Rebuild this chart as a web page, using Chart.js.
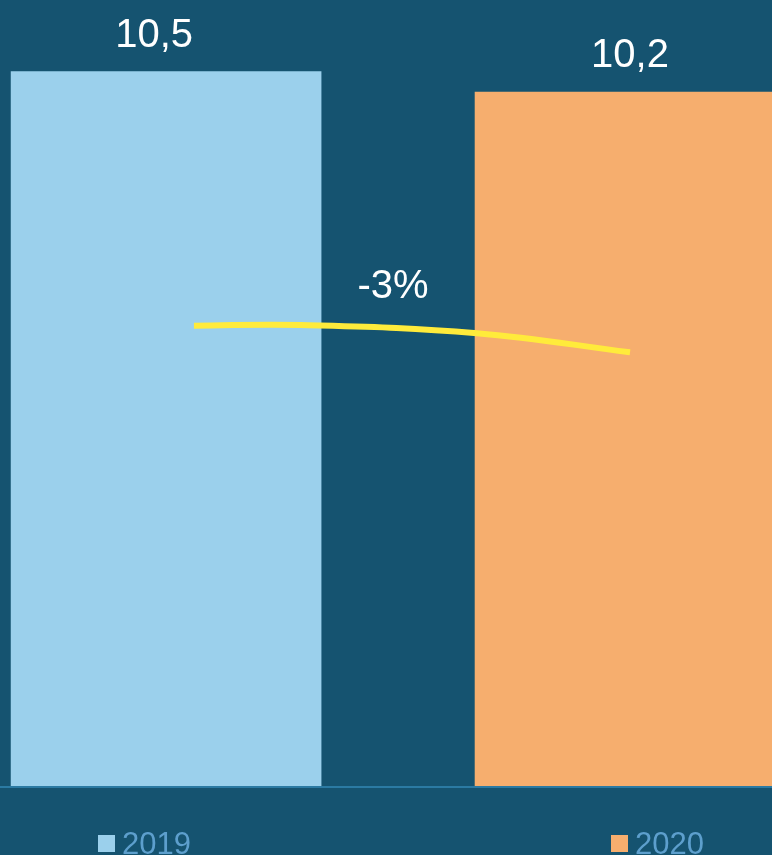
<!DOCTYPE html>
<html>
<head>
<meta charset="utf-8">
<script src="https://cdn.jsdelivr.net/npm/chart.js@4"></script>
<style>
  html, body { margin: 0; padding: 0; background: #155370; }
  .wrap { width: 772px; height: 855px; position: relative; }
</style>
</head>
<body>
<div class="wrap"><canvas id="graf"></canvas></div>
<script>
// data
const years = ['2019', '2020'];
const values = [10.5, 10.2];
const barColors = ['#9bd0ec', '#f6ae6e'];
// yellow connector curve (x in category index units)
const curveX = [0.06, 0.29, 0.67, 1.0];
const curveY = [6.77, 6.78, 6.66, 6.38];

const change = Math.round((values[1] - values[0]) / values[0] * 100);
const changeLabel = (change > 0 ? '+' : '') + change + '%';

const fmt = v => v.toFixed(1).replace('.', ',');

const labelsPlugin = {
  id: 'labels',
  afterDatasetsDraw(chart) {
    const c = chart.ctx;
    const bars = chart.getDatasetMeta(0).data;
    c.save();
    c.fillStyle = '#ffffff';
    c.font = '40px "Liberation Sans", Arial, sans-serif';
    c.textAlign = 'center';
    c.textBaseline = 'alphabetic';
    bars.forEach((b, i) => {
      c.fillText(fmt(values[i]), b.x - (i == 0 ? 12 : 0), b.y - 25);
    });
    // change label over the curve
    const pts = chart.getDatasetMeta(1).data;
    const mx = (pts[0].x + pts[pts.length - 1].x) / 2;
    c.fillText(changeLabel, mx - 19, pts[1].y - 27);

    // baseline
    const y0 = chart.scales.y.getPixelForValue(0);
    c.fillStyle = '#2b7aa3';
    c.fillRect(0, y0 - 1, chart.width, 2);

    // legend
    c.font = '31px "Liberation Sans", Arial, sans-serif';
    c.textAlign = 'left';
    const legX = [98, 611];
    years.forEach((y, i) => {
      c.fillStyle = barColors[i];
      c.fillRect(legX[i], 835, 17, 17);
      c.fillStyle = '#5d9fcd';
      c.fillText(y, legX[i] + 24, 854);
    });
    c.restore();
  }
};

const ctx = document.getElementById('graf').getContext('2d');
const graf = new Chart(ctx, {
  type: 'bar',
  data: {
    datasets: [{
      type: 'bar',
      data: values.map((v, i) => ({ x: i, y: v })),
      backgroundColor: barColors,
      barThickness: 310,
      borderWidth: 0,
      order: 1
    }, {
      type: 'line',
      data: curveX.map((x, i) => ({ x: x, y: curveY[i] })),
      borderColor: '#ffeb3b',
      borderWidth: 6,
      pointRadius: 0,
      tension: 0.4,
      fill: false,
      order: 0
    }]
  },
  options: {
    responsive: true,
    maintainAspectRatio: false,
    animation: false,
    layout: { padding: { left: 0, right: 0, top: 0, bottom: 68 } },
    plugins: { legend: { display: false }, tooltip: { enabled: false } },
    scales: {
      x: { type: 'linear', display: false, offset: false, min: -0.358, max: 1.306 },
      y: { display: false, min: 0, max: 11.55 }
    }
  },
  plugins: [labelsPlugin]
});
</script>
</body>
</html>
